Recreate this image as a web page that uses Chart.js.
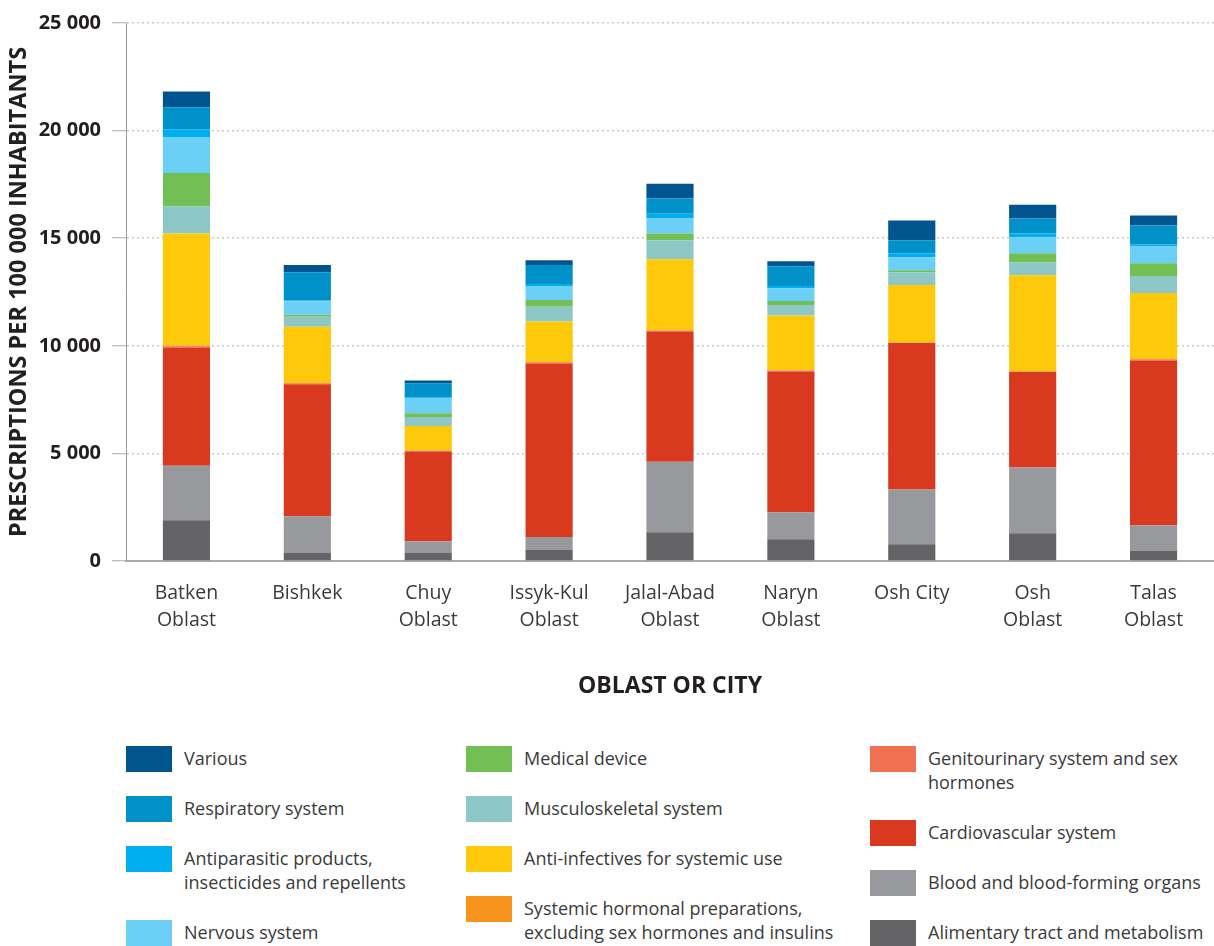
<!DOCTYPE html>
<html>
<head>
<meta charset="utf-8">
<script src="https://cdn.jsdelivr.net/npm/chart.js@4"></script>
<style>
  body { margin: 0; background: #fff; font-family: "Open Sans", sans-serif; }
  #wrap { position: relative; width: 1214px; height: 946px; }
  #chart { position: absolute; left: 0; top: 0; }
  .col { position: absolute; top: 746px; }
  .item { position: relative; padding-left: 58px; margin-bottom: 26px; font-size: 18px; line-height: 24px; color: #3a3a3a; }
  .sw { position: absolute; left: 0; top: 0; width: 46px; height: 26px; }
</style>
</head>
<body>
<div id="wrap">
  <canvas id="chart" width="1214" height="700"></canvas>
  <div class="col" id="col0" style="left:126px; width:300px;"></div>
  <div class="col" id="col1" style="left:466px; width:380px;"></div>
  <div class="col" id="col2" style="left:870px; width:340px;"></div>
</div>
<script>
var regions = [['Batken', 'Oblast'], 'Bishkek', ['Chuy', 'Oblast'], ['Issyk-Kul', 'Oblast'], ['Jalal-Abad', 'Oblast'],
               ['Naryn', 'Oblast'], 'Osh City', ['Osh', 'Oblast'], ['Talas', 'Oblast']];
var yTicks = [0, 5000, 10000, 15000, 20000, 25000];

// stack order, bottom to top
var alimentary    = [1890, 370, 370, 510, 1340, 1010, 780, 1290, 460];
var blood         = [2540, 1710, 550, 600, 3270, 1250, 2540, 3050, 1200];
var cardio        = [5490, 6130, 4150, 8070, 6050, 6540, 6810, 4450, 7660];
var genito        = [60, 50, 50, 50, 50, 50, 15, 15, 50];
var sysHormonal   = [30, 10, 10, 10, 10, 10, 5, 5, 10];
var antiInf       = [5210, 2620, 1140, 1890, 3300, 2550, 2670, 4470, 3070];
var musculo       = [1250, 460, 420, 680, 880, 490, 600, 600, 790];
var medical       = [1560, 90, 180, 320, 320, 180, 90, 420, 600];
var nervous       = [1670, 630, 700, 650, 690, 600, 600, 740, 780];
var antiparasitic = [360, 40, 40, 90, 230, 100, 190, 180, 90];
var respiratory   = [1020, 1310, 650, 880, 700, 920, 600, 690, 880];
var various       = [740, 330, 130, 230, 690, 230, 920, 650, 460];

var series = [
  ['Alimentary tract and metabolism', alimentary, '#646466'],
  ['Blood and blood-forming organs', blood, '#98999d'],
  ['Cardiovascular system', cardio, '#d9391f'],
  ['Genitourinary system and sex hormones', genito, '#f07052'],
  ['Systemic hormonal preparations, excluding sex hormones and insulins', sysHormonal, '#f7941d'],
  ['Anti-infectives for systemic use', antiInf, '#ffc90b'],
  ['Musculoskeletal system', musculo, '#8dc8c7'],
  ['Medical device', medical, '#72bf55'],
  ['Nervous system', nervous, '#6ccff6'],
  ['Antiparasitic products, insecticides and repellents', antiparasitic, '#00adef'],
  ['Respiratory system', respiratory, '#0091c9'],
  ['Various', various, '#00558f']
];

var FONT = '"Open Sans", sans-serif';

function fmt(v) {
  return String(v).replace(/\B(?=(\d{3})+(?!\d))/g, ' ');
}

window.onload = function () {
  var ctx = document.getElementById('chart').getContext('2d');

  var datasets = series.map(function (s) {
    return {
      label: s[0],
      data: s[1],
      backgroundColor: s[2],
      borderWidth: 0,
      barPercentage: 0.39,
      categoryPercentage: 1
    };
  });

  var chart = new Chart(ctx, {
    type: 'bar',
    data: { labels: regions, datasets: datasets },
    options: {
      responsive: false,
      animation: false,
      layout: { padding: { top: 19, right: 0, left: 0, bottom: 0 } },
      plugins: { legend: { display: false }, tooltip: { enabled: false } },
      scales: {
        x: {
          stacked: true,
          afterFit: function (s) { s.height = 139; },
          grid: { display: false, drawTicks: false },
          border: { color: '#aaaaaa', width: 2 },
          ticks: {
            font: { family: FONT, size: 19.5, lineHeight: 1.43 },
            color: '#3a3a3a',
            padding: 18,
            maxRotation: 0,
            autoSkip: false
          },
          title: {
            display: true,
            text: 'OBLAST OR CITY',
            font: { family: FONT, size: 23, weight: 'bold' },
            color: '#231f20',
            padding: { top: 0, bottom: 0 }
          }
        },
        y: {
          stacked: true,
          min: 0,
          max: 25000,
          afterFit: function (s) { s.width = 126; },
          afterBuildTicks: function (s) {
            s.ticks = yTicks.map(function (v) { return { value: v }; });
          },
          grid: {
            color: '#c8c8c8',
            lineWidth: 1.5,
            tickLength: 14,
            tickColor: '#aaaaaa',
            tickWidth: 1,
            tickBorderDash: [1, 0]
          },
          border: { color: '#999999', width: 1, dash: [2, 3] },
          ticks: {
            font: { family: FONT, size: 20, weight: 'bold' },
            color: '#231f20',
            padding: 11,
            callback: function (v) { return fmt(v); }
          },
          title: {
            display: true,
            text: 'PRESCRIPTIONS PER 100 000 INHABITANTS',
            font: { family: FONT, size: 23.5, weight: 'bold' },
            color: '#231f20',
            padding: { top: 5, bottom: 0 }
          }
        }
      }
    }
  });

  // legend: three columns, top of stack first
  var ordered = series.slice().reverse();
  ordered.forEach(function (s, i) {
    var col = document.getElementById('col' + Math.floor(i / 4));
    var item = document.createElement('div');
    item.className = 'item';
    var sw = document.createElement('div');
    sw.className = 'sw';
    sw.style.background = s[2];
    item.appendChild(sw);
    item.appendChild(document.createTextNode(s[0]));
    col.appendChild(item);
  });
};
</script>
</body>
</html>
